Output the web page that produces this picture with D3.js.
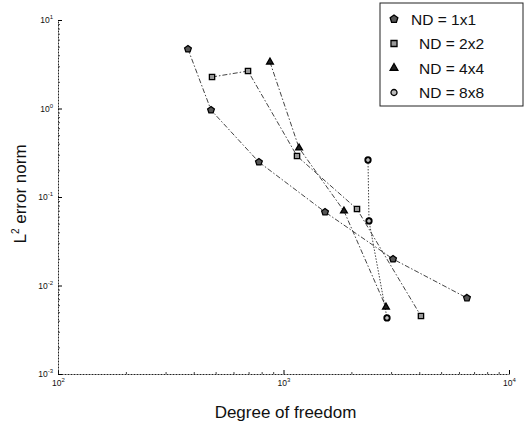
<!DOCTYPE html>
<html lang="en">
<head>
  <meta charset="UTF-8">
  <title>L2 error norm vs DOF</title>
  <style>
    body { margin: 0; background: #fff; }
    text { font-family: "Liberation Sans", Arial, sans-serif; }
  </style>
</head>
<body>
  <script src="https://d3js.org/d3.v7.min.js"></script>
  <script>
    // data
    const seriesNames = ['ND = 1x1', 'ND = 2x2', 'ND = 4x4', 'ND = 8x8'];
    const dof1 = [377, 477, 778, 1528, 3060, 6510];
    const err1 = [4.70, 0.96, 0.248, 0.0677, 0.0199, 0.00723];
    const dof2 = [482, 696, 1148, 2118, 4070];
    const err2 = [2.27, 2.65, 0.290, 0.0731, 0.00452];
    const dof4 = [871, 1172, 1854, 2847];
    const err4 = [3.35, 0.358, 0.0695, 0.00571];
    const dof8 = [2370, 2394, 2877];
    const err8 = [0.262, 0.0536, 0.0043];
    const xTicks = [1e2, 1e3, 1e4];
    const yTicks = [1e-3, 1e-2, 1e-1, 1e0, 1e1];

    const width = 526, height = 428;
    const margin = { top: 20, right: 17, bottom: 54, left: 58 };

    // pentagon symbol (not in d3)
    const symbolPentagon = {
      draw(ctx, size) {
        const r = Math.sqrt(size / 2.378);
        for (let i = 0; i < 5; i++) {
          const a = -Math.PI / 2 + i * 2 * Math.PI / 5;
          const px = r * Math.cos(a), py = r * Math.sin(a);
          if (i === 0) ctx.moveTo(px, py); else ctx.lineTo(px, py);
        }
        ctx.closePath();
      }
    };
    const symbols = [symbolPentagon, d3.symbolSquare, d3.symbolTriangle, d3.symbolCircle];
    const fills = ['#555', '#999', '#222', '#fff'];
    const sizes = [30, 28, 20, 22];

    const series = [[dof1, err1], [dof2, err2], [dof4, err4], [dof8, err8]]
      .map(([xs, ys], k) => ({ name: seriesNames[k], pts: xs.map((x, i) => [x, ys[i]]) }));

    const svg = d3.select('body').append('svg')
      .attr('width', width).attr('height', height);

    const x = d3.scaleLog().domain([1e2, 1e4]).range([margin.left, width - margin.right]);
    const y = d3.scaleLog().domain([1e-3, 1e1]).range([height - margin.bottom, margin.top]);

    // minor ticks 2..9 of each decade
    const minorX = [], minorY = [];
    for (let e = 2; e < 4; e++) for (let m = 2; m < 10; m++) minorX.push(m * Math.pow(10, e));
    for (let e = -3; e < 1; e++) for (let m = 2; m < 10; m++) minorY.push(m * Math.pow(10, e));

    function supLabels(g) {
      g.selectAll('.tick text').each(function (d) {
        const t = d3.select(this);
        t.text('10');
        t.append('tspan').attr('dy', -4).attr('font-size', 6).text(Math.round(Math.log10(d)));
      });
    }

    // x axis
    svg.append('g').attr('transform', `translate(0,${height - margin.bottom})`)
      .call(d3.axisBottom(x).tickValues(minorX).tickSizeInner(-2).tickSizeOuter(0).tickFormat(''))
      .call(g => g.select('.domain').attr('stroke', '#222').attr('stroke-dasharray', '2,1'))
      .call(g => g.selectAll('.tick line').attr('stroke', '#444'));
    svg.append('g').attr('transform', `translate(0,${height - margin.bottom})`)
      .call(d3.axisBottom(x).tickValues(xTicks).tickSizeInner(-4).tickSizeOuter(0).tickPadding(6))
      .call(g => g.select('.domain').remove())
      .call(g => g.selectAll('.tick text').attr('font-size', 8.5).attr('fill', '#111'))
      .call(supLabels);

    // y axis
    svg.append('g').attr('transform', `translate(${margin.left},0)`)
      .call(d3.axisLeft(y).tickValues(minorY).tickSizeInner(-2).tickSizeOuter(0).tickFormat(''))
      .call(g => g.select('.domain').attr('stroke', '#222').attr('stroke-dasharray', '2,1'))
      .call(g => g.selectAll('.tick line').attr('stroke', '#444'));
    svg.append('g').attr('transform', `translate(${margin.left},0)`)
      .call(d3.axisLeft(y).tickValues(yTicks).tickSizeInner(-4).tickSizeOuter(0).tickPadding(5))
      .call(g => g.select('.domain').remove())
      .call(g => g.selectAll('.tick text').attr('font-size', 8.5).attr('fill', '#111'))
      .call(supLabels);

    // axis titles
    svg.append('text')
      .attr('x', (margin.left + width - margin.right) / 2 + 2)
      .attr('y', 418)
      .attr('text-anchor', 'middle').attr('font-size', 17).attr('fill', '#111')
      .text('Degree of freedom');
    const yl = svg.append('text')
      .attr('transform', `translate(26,${(margin.top + height - margin.bottom) / 2 - 3}) rotate(-90)`)
      .attr('text-anchor', 'middle').attr('font-size', 17).attr('fill', '#111');
    yl.append('tspan').text('L');
    yl.append('tspan').attr('dy', -7).attr('font-size', 10).text('2');
    yl.append('tspan').attr('dy', 7).text(' error norm');

    // lines
    const line = d3.line().x(d => x(d[0])).y(d => y(d[1]));
    svg.append('g').selectAll('path').data(series).join('path')
      .attr('d', d => line(d.pts))
      .attr('fill', 'none')
      .attr('stroke', '#444')
      .attr('stroke-width', 1)
      .attr('stroke-dasharray', (d, i) => i === 3 ? '1.5,1.5' : '5,2,1.5,2');

    // markers
    series.forEach((s, k) => {
      const sym = d3.symbol().type(symbols[k]).size(sizes[k]);
      const g = svg.append('g');
      g.selectAll('path').data(s.pts).join('path')
        .attr('transform', d => `translate(${x(d[0])},${y(d[1])})`)
        .attr('d', sym)
        .attr('fill', fills[k])
        .attr('stroke', '#000')
        .attr('stroke-width', k === 3 ? 2 : 1.3);
      if (k === 3) {
        g.selectAll('circle').data(s.pts).join('circle')
          .attr('cx', d => x(d[0])).attr('cy', d => y(d[1])).attr('r', 0.8).attr('fill', '#666');
      }
    });

    // legend
    const legend = svg.append('g').attr('transform', 'translate(380,3)');
    legend.append('rect')
      .attr('width', 143).attr('height', 103)
      .attr('fill', '#fff').attr('stroke', '#222').attr('stroke-width', 1);
    seriesNames.forEach((name, k) => {
      const row = legend.append('g').attr('transform', `translate(0,${16 + k * 24.5})`);
      row.append('path')
        .attr('transform', 'translate(14,0)')
        .attr('d', d3.symbol().type(symbols[k]).size(sizes[k] * 1.3))
        .attr('fill', fills[k] === '#fff' ? '#bbb' : fills[k])
        .attr('stroke', '#000').attr('stroke-width', 1.3);
      row.append('text')
        .attr('x', k === 0 ? 31 : 39).attr('y', 5.5)
        .attr('font-size', 15.5).attr('fill', '#111')
        .text(name);
    });
  </script>
</body>
</html>
